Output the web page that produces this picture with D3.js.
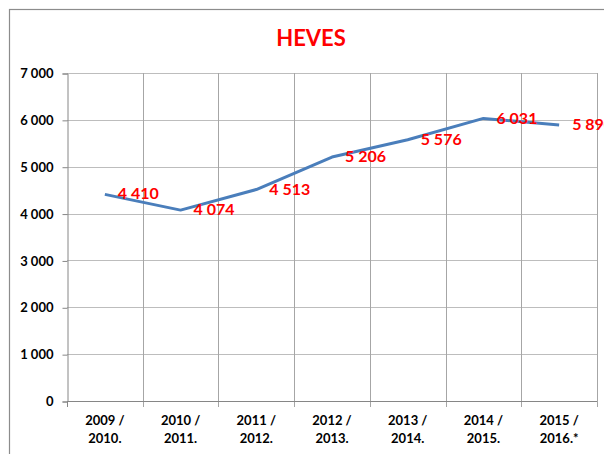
<!DOCTYPE html>
<html>
<head>
<meta charset="utf-8">
<script src="https://cdn.jsdelivr.net/npm/d3@7"></script>
<style>
  html, body { margin: 0; padding: 0; background: #fff; overflow: hidden; }
  svg { display: block; }
</style>
</head>
<body>
<svg id="chart" width="604" height="454"></svg>
<script>
const title = "HEVES";
const categories = [
  ["2009 /", "2010."],
  ["2010 /", "2011."],
  ["2011 /", "2012."],
  ["2012 /", "2013."],
  ["2013 /", "2014."],
  ["2014 /", "2015."],
  ["2015 /", "2016.*"]
];
const values = [4410, 4074, 4513, 5206, 5576, 6031, 5890];
const valueLabels = ["4 410", "4 074", "4 513", "5 206", "5 576", "6 031", "5 890"];
const yTicks = [0, 1000, 2000, 3000, 4000, 5000, 6000, 7000];
const yTickLabels = ["0", "1 000", "2 000", "3 000", "4 000", "5 000", "6 000", "7 000"];

(function () {
const svg = d3.select("#chart");
const font = "Lato, 'Open Sans', sans-serif";

// outer frame
svg.append("rect")
  .attr("x", 9.5).attr("y", 9.5)
  .attr("width", 700).attr("height", 600)
  .attr("fill", "none").attr("stroke", "#8c8c8c").attr("stroke-width", 1.2);

const pLeft = 67, pRight = 597, pTop = 73, pBottom = 401;

const x = d3.scaleBand()
  .domain(d3.range(categories.length))
  .range([pLeft, pRight])
  .padding(0);

const y = d3.scaleLinear()
  .domain([0, 7000])
  .range([pBottom, pTop]);

// horizontal gridlines
svg.append("g").selectAll("line")
  .data(yTicks.filter(d => d > 0))
  .join("line")
  .attr("x1", pLeft).attr("x2", pRight)
  .attr("y1", d => Math.round(y(d)) + 0.5).attr("y2", d => Math.round(y(d)) + 0.5)
  .attr("stroke", "#bdbdbd").attr("stroke-width", 1);

// vertical gridlines (category boundaries)
const bounds = d3.range(categories.length + 1).map(i => i < categories.length ? x(i) : x(categories.length - 1) + x.bandwidth());
svg.append("g").selectAll("line")
  .data(bounds.slice(1))
  .join("line")
  .attr("x1", d => Math.round(d) + 0.5).attr("x2", d => Math.round(d) + 0.5)
  .attr("y1", pTop).attr("y2", pBottom + 6)
  .attr("stroke", "#a6a6a6").attr("stroke-width", 1);

// y axis
const yAxis = d3.axisLeft(y)
  .tickValues(yTicks)
  .tickSize(5)
  .tickPadding(9)
  .tickFormat((d, i) => yTickLabels[i]);
const gy = svg.append("g")
  .attr("transform", `translate(${pLeft + 0.5},0.5)`)
  .call(yAxis);
gy.select(".domain").attr("stroke", "#868686");
gy.selectAll(".tick line").attr("stroke", "#868686");
gy.selectAll(".tick text")
  .attr("font-family", font).attr("font-weight", "bold")
  .attr("font-size", 13).attr("fill", "#000");

// x axis
svg.append("line")
  .attr("x1", pLeft).attr("x2", pRight)
  .attr("y1", pBottom + 0.5).attr("y2", pBottom + 0.5)
  .attr("stroke", "#868686");
svg.append("line")
  .attr("x1", pLeft + 0.5).attr("x2", pLeft + 0.5)
  .attr("y1", pBottom).attr("y2", pBottom + 6)
  .attr("stroke", "#868686");

const xl = svg.append("g").selectAll("text")
  .data(categories)
  .join("text")
  .attr("x", (d, i) => x(i) + x.bandwidth() / 2)
  .attr("y", 425)
  .attr("text-anchor", "middle")
  .attr("font-family", font).attr("font-weight", "bold")
  .attr("font-size", 13).attr("fill", "#000");
xl.append("tspan").attr("x", (d, i) => x(i) + x.bandwidth() / 2).text(d => d[0]);
xl.append("tspan").attr("x", (d, i) => x(i) + x.bandwidth() / 2).attr("dy", 18).text(d => d[1]);

// line
const line = d3.line()
  .x((d, i) => x(i) + x.bandwidth() / 2)
  .y(d => y(d));
svg.append("path")
  .datum(values)
  .attr("d", line)
  .attr("fill", "none")
  .attr("stroke", "#4a7ebb")
  .attr("stroke-width", 3)
  .attr("stroke-linejoin", "round");

// data labels
svg.append("g").selectAll("text")
  .data(values)
  .join("text")
  .attr("x", (d, i) => x(i) + x.bandwidth() / 2 + 13)
  .attr("y", d => y(d) + 1)
  .attr("dominant-baseline", "middle")
  .attr("font-family", font).attr("font-weight", "bold")
  .attr("font-size", 16).attr("fill", "#ff0000")
  .text((d, i) => valueLabels[i]);

// title
svg.append("text")
  .attr("x", 311).attr("y", 46)
  .attr("text-anchor", "middle")
  .attr("font-family", font).attr("font-weight", "bold")
  .attr("font-size", 22).attr("fill", "#ff0000")
  .text(title);
})();
</script>
</body>
</html>
